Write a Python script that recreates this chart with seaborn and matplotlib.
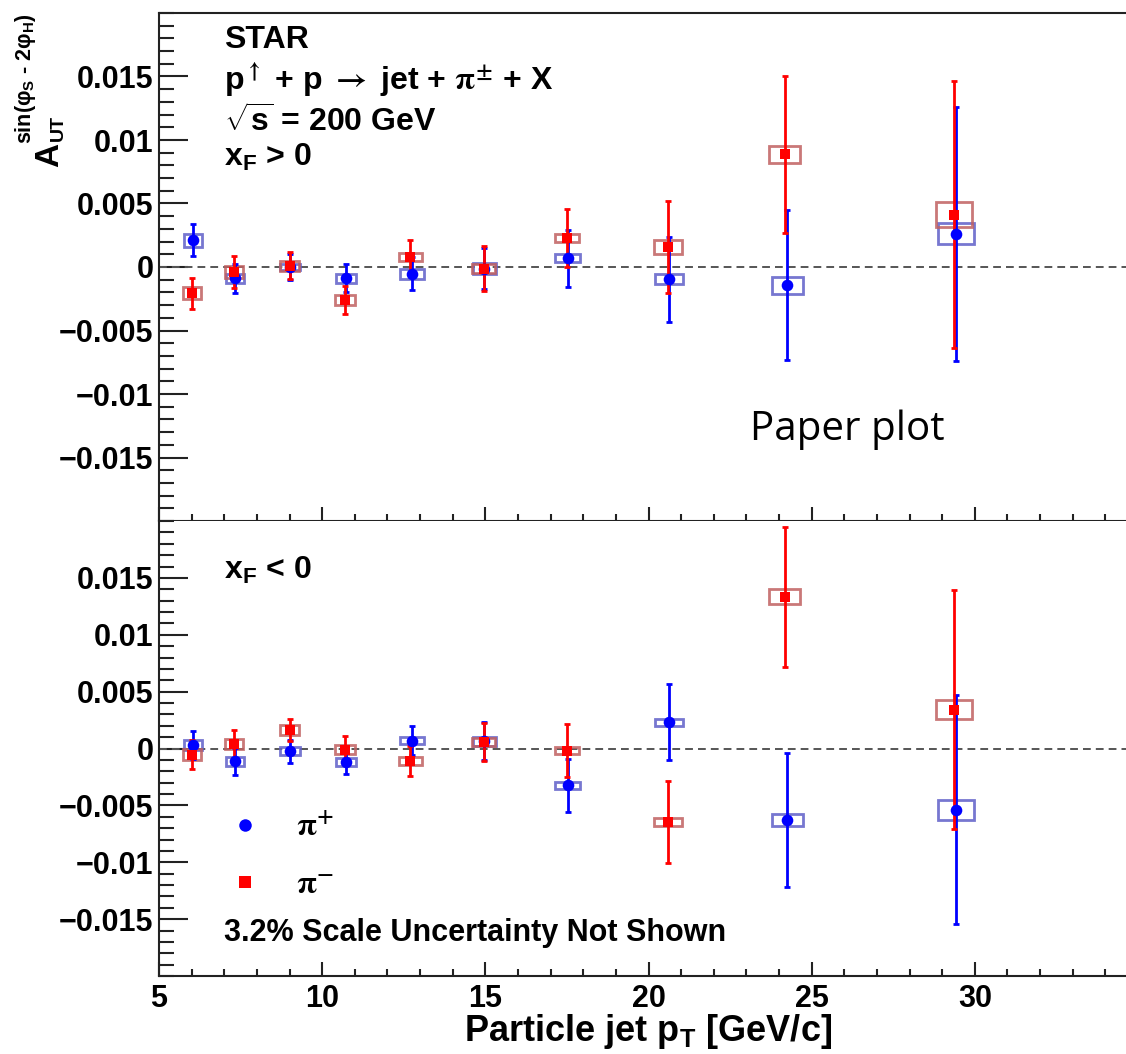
import numpy as np
import pandas as pd
import matplotlib
matplotlib.use("Agg")
import matplotlib.pyplot as plt
import seaborn as sns
from matplotlib.patches import Rectangle
from matplotlib.lines import Line2D
from matplotlib.ticker import MultipleLocator, FixedLocator

# ---------------- data ----------------
pt_pip = [6.05, 7.33, 9.02, 10.72, 12.75, 14.97, 17.52, 20.62, 24.25, 29.42]
pt_pim = [6.00, 7.30, 9.00, 10.70, 12.70, 14.95, 17.50, 20.60, 24.17, 29.36]
box_width = [0.55, 0.56, 0.61, 0.61, 0.72, 0.72, 0.76, 0.87, 0.94, 1.12]

# x_F > 0
pip_top = [0.0021, -0.0009, 0.0000, -0.0009, -0.00055, -0.00013, 0.00068, -0.00095, -0.00145, 0.00263]
pip_top_err = [0.00125, 0.00117, 0.0010, 0.0011, 0.0013, 0.0016, 0.00227, 0.00335, 0.0059, 0.0100]
pip_top_sys = [0.00053, 0.00036, 0.00026, 0.00034, 0.00037, 0.00042, 0.00032, 0.0004, 0.00066, 0.0008]
pim_top = [-0.00205, -0.0004, 0.0001, -0.00258, 0.00076, -0.00013, 0.00229, 0.00158, 0.00887, 0.00413]
pim_top_err = [0.00122, 0.00125, 0.00107, 0.0011, 0.00133, 0.00175, 0.0023, 0.0036, 0.0062, 0.0105]
pim_top_sys = [0.0005, 0.00046, 0.0004, 0.0004, 0.00032, 0.00033, 0.00033, 0.00053, 0.00066, 0.00097]

# x_F < 0
pip_bot = [0.0003, -0.00112, -0.00024, -0.00118, 0.0007, 0.00065, -0.00324, 0.00232, -0.00626, -0.00538]
pip_bot_err = [0.00125, 0.0012, 0.0010, 0.0011, 0.00127, 0.00165, 0.00232, 0.00337, 0.0059, 0.01005]
pip_bot_sys = [0.00044, 0.00041, 0.00037, 0.00037, 0.00034, 0.0004, 0.00032, 0.0003, 0.00051, 0.00088]
pim_bot = [-0.00053, 0.00041, 0.00162, -0.00009, -0.00112, 0.00056, -0.00018, -0.0065, 0.01335, 0.00341]
pim_bot_err = [0.00125, 0.00125, 0.0010, 0.00115, 0.0013, 0.0017, 0.00235, 0.0036, 0.00616, 0.0105]
pim_bot_sys = [0.0005, 0.00044, 0.00041, 0.00041, 0.00037, 0.00037, 0.00032, 0.00035, 0.00066, 0.00085]

ytick_vals = [-0.015, -0.01, -0.005, 0, 0.005, 0.01, 0.015]
ytick_labels = ["\u22120.015", "\u22120.01", "\u22120.005", "0", "0.005", "0.01", "0.015"]
xtick_vals = [5, 10, 15, 20, 25, 30, 35]
xtick_labels = ["5", "10", "15", "20", "25", "30", ""]

# ---------------- style ----------------
sns.set_theme(style="ticks")
plt.rcParams["font.family"] = ["Liberation Sans", "DejaVu Sans"]
plt.rcParams["font.weight"] = "bold"
plt.rcParams["text.color"] = "black"
plt.rcParams["xtick.labelcolor"] = "black"
plt.rcParams["ytick.labelcolor"] = "black"
plt.rcParams["axes.labelcolor"] = "black"
plt.rcParams["mathtext.fontset"] = "custom"
plt.rcParams["mathtext.rm"] = "Liberation Sans:bold"
plt.rcParams["mathtext.it"] = "Liberation Sans:bold"
plt.rcParams["mathtext.bf"] = "Liberation Sans:bold"
plt.rcParams["mathtext.sf"] = "Liberation Sans:bold"
plt.rcParams["mathtext.default"] = "rm"

W, H = 1126, 1054
fig = plt.figure(figsize=(W / 100, H / 100), dpi=100)
fig.patch.set_facecolor("white")

def fx(x):
    return x / W

def fy(y):
    return 1 - y / H

x_left, x_right = 159, 1138
ax_top = fig.add_axes([fx(x_left), fy(521), (x_right - x_left) / W, (521 - 13) / H])
ax_bot = fig.add_axes([fx(x_left), fy(976), (x_right - x_left) / W, (976 - 521) / H])

BLUE = "#0000ff"
RED = "#ff0000"
BLUE_BOX = "#5f5fc8"
RED_BOX = "#c06060"

def draw_panel(ax, yp, ep, sp, ym, em, sm):
    df = pd.DataFrame({
        "pt": pt_pip + pt_pim,
        "A": yp + ym,
        "pion": ["pip"] * len(pt_pip) + ["pim"] * len(pt_pim),
    })
    ax.axhline(0, color="#555555", lw=1.4, ls=(0, (4, 2.6)), zorder=1)
    for xs, ys, ss, col in ((pt_pip, yp, sp, BLUE_BOX), (pt_pim, ym, sm, RED_BOX)):
        for x, y, s, w in zip(xs, ys, ss, box_width):
            ax.add_patch(Rectangle((x - w / 2, y - s), w, 2 * s, fill=False,
                                   edgecolor=col, lw=2.0, alpha=0.85, zorder=2))
    ax.errorbar(pt_pip, yp, yerr=ep, fmt="none", ecolor=BLUE, elinewidth=2.0,
                capsize=2.5, capthick=2.0, zorder=3)
    ax.errorbar(pt_pim, ym, yerr=em, fmt="none", ecolor=RED, elinewidth=2.0,
                capsize=2.5, capthick=2.0, zorder=3)
    sns.scatterplot(data=df[df.pion == "pip"], x="pt", y="A", marker="o", color=BLUE,
                    s=70, linewidth=0, ax=ax, zorder=4, legend=False)
    sns.scatterplot(data=df[df.pion == "pim"], x="pt", y="A", marker="s", color=RED,
                    s=60, linewidth=0, ax=ax, zorder=5, legend=False)

draw_panel(ax_top, pip_top, pip_top_err, pip_top_sys, pim_top, pim_top_err, pim_top_sys)
draw_panel(ax_bot, pip_bot, pip_bot_err, pip_bot_sys, pim_bot, pim_bot_err, pim_bot_sys)

for ax in (ax_top, ax_bot):
    ax.set_xlim(5, 35)
    ax.set_ylim(-0.02, 0.02)
    ax.set_xlabel("")
    ax.set_ylabel("")
    ax.yaxis.set_major_locator(FixedLocator(ytick_vals))
    ax.set_yticklabels(ytick_labels)
    ax.yaxis.set_minor_locator(MultipleLocator(0.001))
    ax.xaxis.set_major_locator(FixedLocator(xtick_vals))
    ax.xaxis.set_minor_locator(MultipleLocator(1))
    ax.tick_params(axis="y", which="major", direction="in", length=21, width=1.5,
                   color="#222222", labelsize=22, pad=4, left=True, right=False,
                   labelcolor="black")
    ax.tick_params(axis="y", which="minor", direction="in", length=11, width=1.5,
                   color="#222222", left=True, right=False)
    ax.tick_params(axis="x", which="major", direction="in", length=10, width=1.5,
                   color="#222222", labelsize=22, pad=6, bottom=True, top=False,
                   labelcolor="black")
    ax.tick_params(axis="x", which="minor", direction="in", length=5, width=1.5,
                   color="#222222", bottom=True, top=False)
    for sp in ax.spines.values():
        sp.set_linewidth(1.5)
        sp.set_color("#222222")
    ax.set_facecolor("white")
    for lbl in ax.get_yticklabels() + ax.get_xticklabels():
        lbl.set_fontweight("bold")

ax_top.set_xticklabels([])
ax_bot.set_xticklabels(xtick_labels)
for lbl in ax_bot.get_xticklabels():
    lbl.set_fontweight("bold")
ax_bot.spines["top"].set_visible(False)

ax_bot.set_xlabel(r"Particle jet p$_{T}$ [GeV/c]", fontsize=26, fontweight="bold",
                  color="black")
ax_bot.xaxis.set_label_coords(0.5, -(1012 - 976) / 455)
ax_bot.xaxis.label.set_va("top")

# y label (ROOT style, at top): A, subscript UT, superscript sin(...)
fig.text(fx(50), fy(167), "A", rotation=90, ha="center", va="bottom",
         fontsize=24, fontweight="bold")
fig.text(fx(58), fy(141), "UT", rotation=90, ha="center", va="bottom",
         fontsize=14, fontweight="bold")
fig.text(fx(26), fy(13), r"sin($\varphi_{S}$ - 2$\varphi_{H}$)", rotation=90,
         ha="center", va="top", fontsize=15.5, fontweight="bold")

# annotations top panel
tx = 224
fig.text(fx(tx), fy(40), "STAR", fontsize=23, fontweight="bold", va="center")
fig.text(fx(tx), fy(80), r"p$^{\uparrow}$ + p $\rightarrow$ jet + $\mathrm{\pi}^{\pm}$ + X",
         fontsize=23, fontweight="bold", va="center", math_fontfamily="stix")
fig.text(fx(tx), fy(122), r"$\sqrt{s}$ = 200 GeV", fontsize=23, fontweight="bold", va="center")
fig.text(fx(tx), fy(157), r"x$_{F}$ > 0", fontsize=23, fontweight="bold", va="center")

# annotations bottom panel
fig.text(fx(tx), fy(570), r"x$_{F}$ < 0", fontsize=23, fontweight="bold", va="center")
fig.text(fx(tx), fy(933), "3.2% Scale Uncertainty Not Shown", fontsize=22,
         fontweight="bold", va="center")

fig.text(fx(750), fy(430), "Paper plot", fontsize=29, fontweight="normal",
         family=["Open Sans", "DejaVu Sans"], va="center", color="black")

# legend
handles = [
    Line2D([], [], marker="o", color=BLUE, ls="none", markersize=9, markeredgewidth=0),
    Line2D([], [], marker="s", color=RED, ls="none", markersize=8.5, markeredgewidth=0),
]
leg = ax_bot.legend(handles, [r"$\mathrm{\pi}^{+}$", r"$\mathrm{\pi}^{-}$"],
                    loc="upper left", bbox_to_anchor=(fx(229), fy(813)),
                    bbox_transform=fig.transFigure, frameon=False, fontsize=23,
                    handlelength=1.0, handletextpad=1.1, labelspacing=0.85,
                    borderpad=0, borderaxespad=0)
for t in leg.get_texts():
    t.set_math_fontfamily("stix")
    t.set_color("black")

fig.savefig("out.png", dpi=100, facecolor="white")
